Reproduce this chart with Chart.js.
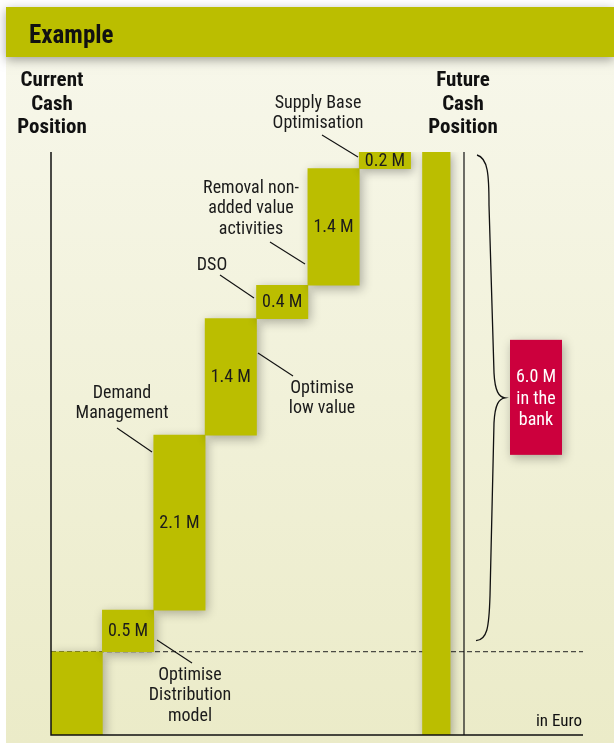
<!DOCTYPE html>
<html>
<head>
<meta charset="utf-8">
<title>Example</title>
<script src="https://cdn.jsdelivr.net/npm/chart.js@4/dist/chart.umd.min.js"></script>
<style>
    html, body { margin: 0; padding: 0; background: #ffffff; }
    #wrap { width: 614px; height: 751px; }
</style>
</head>
<body>
<div id="wrap"><canvas id="cashChart" width="614" height="751"></canvas></div>
<script>
// datos del grafico
const chartTitle = 'Example';
const startLabel = ['Current', 'Cash', 'Position'];
const endLabel = ['Future', 'Cash', 'Position'];
const currentCash = 1.0; // posicion actual (M)
const stepNames = [
    ['Optimise', 'Distribution', 'model'],
    ['Demand', 'Management'],
    ['Optimise', 'low value'],
    ['DSO'],
    ['Removal non-', 'added value', 'activities'],
    ['Supply Base', 'Optimisation']
];
const stepSavings = [0.5, 2.1, 1.4, 0.4, 1.4, 0.2]; // ahorros por paso (M)
const unitLabel = 'in Euro';
const bankLabel = ['in the', 'bank'];

// layout de las notas (posicion del texto y linea guia), no son datos
const noteLayout = [
    { x: 190, y: 675, line: [157, 640, 192, 663] },
    { x: 122, y: 393, line: [117, 428, 152, 452] },
    { x: 322, y: 388, line: [258, 353, 293, 376] },
    { x: 212, y: 265, line: [220, 275, 254, 298] },
    { x: 251, y: 188, line: [270, 242, 305, 264] },
    { x: 318, y: 103, line: [322, 135, 358, 157] }
];

const OLIVE = '#bbbe00';
const RED = '#cc003d';
const INK = '#1b1b1b';
const FONT = '"Liberation Sans Narrow", "Roboto Condensed", "DejaVu Sans Condensed", "Liberation Sans", sans-serif';

document.addEventListener('DOMContentLoaded', function() {
    const canvas = document.getElementById('cashChart');

    // barras flotantes (cascada) a partir de los arrays
    const labels = ['Current'].concat(stepNames.map(n => n.join(' ')), ['Future']);
    const stepData = [[0, currentCash]];
    let acumulado = currentCash;
    stepSavings.forEach(function(v) {
        stepData.push([acumulado, acumulado + v]);
        acumulado += v;
    });
    stepData.push(null);
    const futureCash = acumulado;
    const futureData = labels.map((l, i) => i === labels.length - 1 ? [0, futureCash] : null);
    const totalSaving = stepSavings.reduce((a, b) => a + b, 0);

    function lines(ctx, arr, x, y, lh) {
        arr.forEach(function(t, i) { ctx.fillText(t, x, y + i * lh); });
    }

    const backgroundPlugin = {
        id: 'background',
        beforeDraw(chart) {
            const ctx = chart.ctx;
            ctx.save();
            const g = ctx.createLinearGradient(0, 57, 0, 743);
            g.addColorStop(0, '#f7f7ea');
            g.addColorStop(1, '#ebebc8');
            ctx.fillStyle = g;
            ctx.fillRect(6, 7, 608, 736);
            ctx.shadowColor = 'rgba(0,0,0,0.35)';
            ctx.shadowBlur = 10;
            ctx.shadowOffsetY = 3;
            ctx.fillStyle = OLIVE;
            ctx.fillRect(6, 7, 608, 50);
            ctx.restore();

            ctx.save();
            ctx.fillStyle = '#111';
            ctx.font = 'bold 25px ' + FONT;
            ctx.textBaseline = 'alphabetic';
            ctx.fillText(chartTitle, 29, 43);
            ctx.restore();
        },
        beforeDatasetsDraw(chart) {
            const ctx = chart.ctx;
            const y = chart.scales.y;
            const yBase = y.getPixelForValue(currentCash);
            ctx.save();
            ctx.strokeStyle = '#222';
            ctx.lineWidth = 1;
            ctx.setLineDash([5, 3]);
            ctx.beginPath();
            ctx.moveTo(51, yBase);
            ctx.lineTo(583, yBase);
            ctx.stroke();
            ctx.restore();
            // sombra para las barras
            ctx.save();
            ctx.shadowColor = 'rgba(0,0,0,0.3)';
            ctx.shadowBlur = 10;
            ctx.shadowOffsetX = 2;
            ctx.shadowOffsetY = 3;
        },
        afterDatasetsDraw(chart) {
            const ctx = chart.ctx;
            ctx.restore();
            const area = chart.chartArea;
            const y = chart.scales.y;
            const bottom = y.getPixelForValue(0);
            const top = y.getPixelForValue(futureCash);
            const yBase = y.getPixelForValue(currentCash);

            // ejes
            ctx.save();
            ctx.strokeStyle = '#111';
            ctx.lineWidth = 1.5;
            ctx.beginPath();
            ctx.moveTo(area.left, top);
            ctx.lineTo(area.left, bottom);
            ctx.lineTo(583, bottom);
            ctx.stroke();
            ctx.lineWidth = 1.2;
            ctx.beginPath();
            ctx.moveTo(area.right + 2, top);
            ctx.lineTo(area.right + 2, bottom);
            ctx.stroke();

            // llave
            const t = top + 3, b = yBase - 11, m = (top + yBase) / 2 - 4;
            ctx.lineWidth = 1.3;
            ctx.beginPath();
            ctx.moveTo(477, t);
            ctx.bezierCurveTo(488, t + 3, 489, t + 20, 489, t + 50);
            ctx.lineTo(494, m - 25);
            ctx.bezierCurveTo(495, m - 6, 499, m - 1, 505, m);
            ctx.bezierCurveTo(499, m + 1, 495, m + 6, 494, m + 25);
            ctx.lineTo(490, b - 45);
            ctx.bezierCurveTo(489, b - 12, 487, b - 1, 476, b);
            ctx.stroke();

            // caja roja
            ctx.shadowColor = 'rgba(0,0,0,0.3)';
            ctx.shadowBlur = 10;
            ctx.shadowOffsetX = 2;
            ctx.shadowOffsetY = 3;
            ctx.fillStyle = RED;
            ctx.fillRect(510, m - 58, 52, 115);
            ctx.restore();

            ctx.save();
            ctx.textAlign = 'center';
            ctx.textBaseline = 'middle';
            ctx.fillStyle = '#ffffff';
            ctx.font = '18px ' + FONT;
            lines(ctx, [totalSaving.toFixed(1) + ' M'].concat(bankLabel), 536, m - 20, 21.5);

            // valores en las barras
            ctx.fillStyle = INK;
            ctx.font = '18px ' + FONT;
            const meta = chart.getDatasetMeta(0);
            stepSavings.forEach(function(v, i) {
                const bar = meta.data[i + 1];
                ctx.fillText(v.toFixed(1) + ' M', bar.x, (bar.y + bar.base) / 2 + 1);
            });

            // notas con linea guia
            ctx.font = '18px ' + FONT;
            ctx.strokeStyle = '#111';
            ctx.lineWidth = 1.1;
            stepNames.forEach(function(n, i) {
                const p = noteLayout[i];
                lines(ctx, n, p.x, p.y, 20.5);
                ctx.beginPath();
                ctx.moveTo(p.line[0], p.line[1]);
                ctx.lineTo(p.line[2], p.line[3]);
                ctx.stroke();
            });

            // titulos de columnas
            ctx.font = 'bold 21px ' + FONT;
            ctx.fillStyle = '#111';
            lines(ctx, startLabel, 52, 81, 23.5);
            lines(ctx, endLabel, 463, 81, 23.5);

            ctx.font = '17px ' + FONT;
            ctx.textAlign = 'right';
            ctx.fillText(unitLabel, 582, 722);
            ctx.restore();
        }
    };

    new Chart(canvas.getContext('2d'), {
        type: 'bar',
        data: {
            labels: labels,
            datasets: [
                {
                    label: 'Steps',
                    data: stepData,
                    backgroundColor: OLIVE,
                    borderWidth: 0,
                    grouped: false,
                    categoryPercentage: 1,
                    barPercentage: 1
                },
                {
                    label: 'Future',
                    data: futureData,
                    backgroundColor: OLIVE,
                    borderWidth: 0,
                    grouped: false,
                    categoryPercentage: 1,
                    barPercentage: 0.55
                }
            ]
        },
        options: {
            responsive: false,
            animation: false,
            layout: { padding: { left: 51, right: 152, top: 152, bottom: 16 } },
            plugins: { legend: { display: false }, tooltip: { enabled: false } },
            scales: {
                x: { display: false },
                y: { display: false, min: 0, max: futureCash }
            }
        },
        plugins: [backgroundPlugin]
    });
});
</script>
</body>
</html>
